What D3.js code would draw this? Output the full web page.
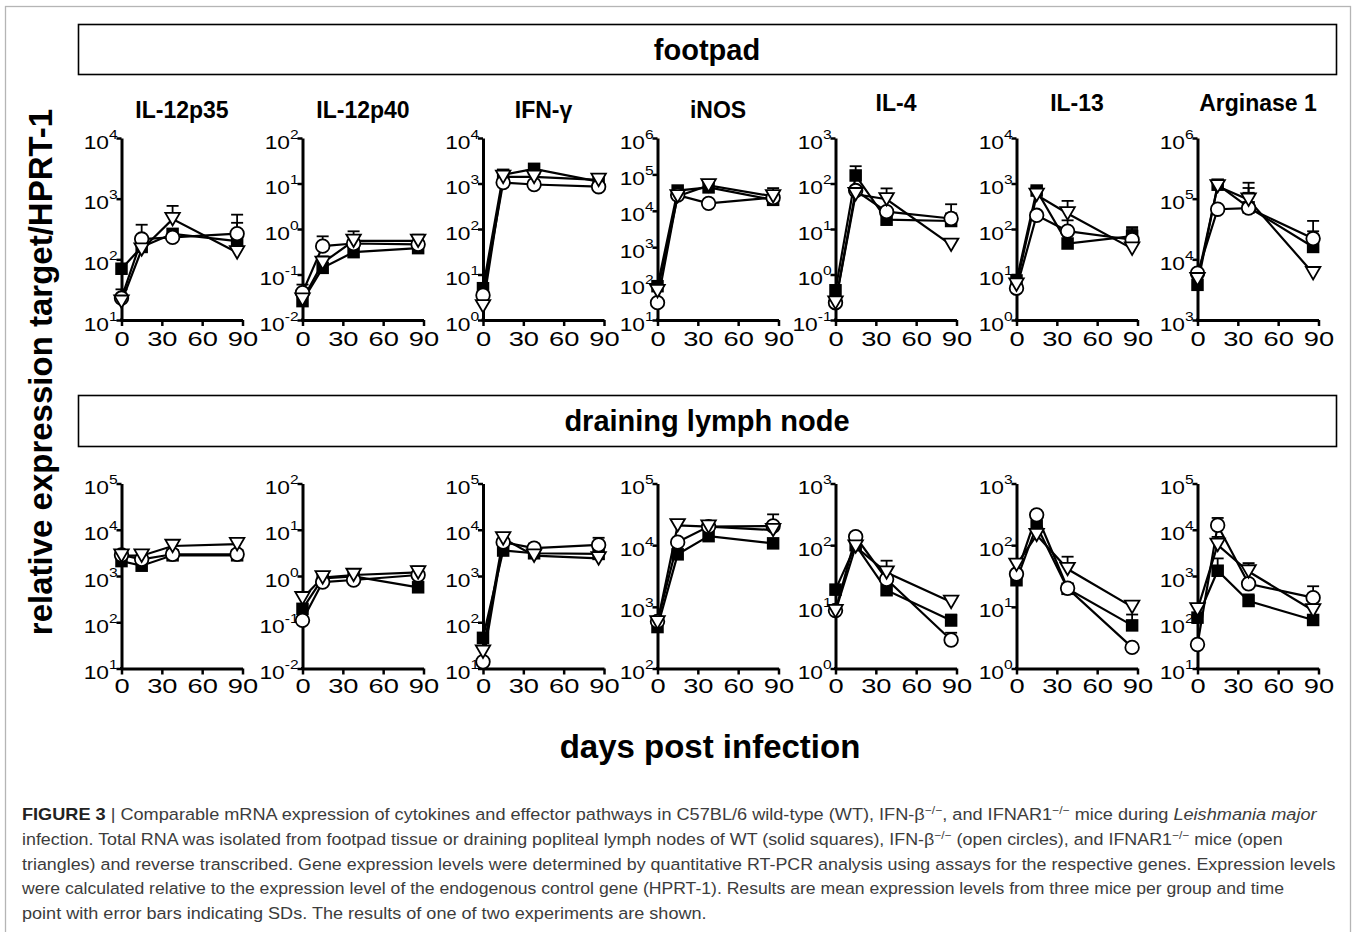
<!DOCTYPE html>
<html><head><meta charset="utf-8">
<script src="https://cdn.jsdelivr.net/npm/d3@7"></script>
<style>body{margin:0;background:#fff;} svg{display:block;}</style>
</head><body>
<svg id="fig" width="1354" height="932"></svg>
<script>
// ---------------- DATA ----------------
const days = [0, 15, 38, 86];
const xTicks = [0, 30, 60, 90];
const genes = ["IL-12p35", "IL-12p40", "IFN-γ", "iNOS", "IL-4", "IL-13", "Arginase 1"];
const tissues = ["footpad", "draining lymph node"];
// y-axis decade exponent ranges [low, high]
const footpadExp = [[1,4],[-2,2],[0,4],[1,6],[-1,3],[0,4],[3,6]];
const lymphExp   = [[1,5],[-2,2],[1,5],[2,5],[0,3],[0,3],[1,5]];

// footpad: WT (solid squares), IFN-β-/- (open circles), IFNAR1-/- (open triangles)
const footpadWT = [
  [70, 160, 263, 200],
  [0.026, 0.14, 0.31, 0.38],
  [5.0, 1550, 2100, 1100],
  [85, 36000, 44000, 20000],
  [0.45, 150, 16, 15],
  [7.4, 700, 48, 70],
  [3800, 170000, 72000, 16000]
];
const footpadIFNB = [
  [23, 216, 230, 265],
  [0.04, 0.42, 0.48, 0.46],
  [3.5, 1050, 950, 850],
  [30, 27000, 16000, 23000],
  [0.24, 70, 24, 17],
  [5, 200, 90, 58],
  [5900, 67000, 70000, 22000]
];
const footpadIFNAR1 = [
  [20, 145, 460, 130],
  [0.028, 0.18, 0.55, 0.55],
  [2.0, 1400, 1400, 1200],
  [62, 25000, 50000, 25000],
  [0.24, 58, 45, 4.5],
  [6, 560, 220, 37],
  [4700, 160000, 96000, 5900]
];
// upper end of SD error bars (null = not visible)
const footpadWTErr = [
  [null, null, null, 400],
  [null, null, null, null],
  [null, null, null, null],
  [null, null, null, null],
  [null, 240, null, 22],
  [null, 830, null, 100],
  [null, null, 125000, 29000]
];
const footpadIFNBErr = [
  [32, 372, null, 545],
  [0.06, 0.69, null, null],
  [null, null, null, null],
  [null, null, null, 42000],
  [null, null, null, 35],
  [null, null, 155, 110],
  [null, null, 150000, 43000]
];
const footpadIFNAR1Err = [
  [null, null, 760, null],
  [null, 0.25, 0.89, 0.75],
  [null, null, null, null],
  [null, null, 60000, null],
  [null, null, 78, null],
  [null, null, 415, null],
  [null, null, 183000, null]
];

// draining lymph node
const lymphWT = [
  [2100, 1670, 2800, 2800],
  [0.195, 0.89, 0.98, 0.57],
  [46, 3550, 3100, 3000],
  [470, 7100, 14000, 10700],
  [19, 100, 18.6, 6.0],
  [27, 207, 19.6, 5.0],
  [126, 1300, 288, 112]
];
const lymphIFNB = [
  [2850, 2300, 2950, 2950],
  [0.11, 0.74, 0.82, 1.05],
  [14, 5400, 4000, 4700],
  [580, 11200, 20000, 20500],
  [8.7, 137, 28, 2.9],
  [34, 310, 20, 2.2],
  [33, 12500, 680, 340]
];
const lymphIFNAR1 = [
  [2750, 2750, 4450, 4870],
  [0.33, 0.93, 1.05, 1.2],
  [23, 6500, 2750, 2400],
  [560, 21000, 20000, 17600],
  [8.5, 95, 36, 12],
  [48, 146, 41, 10],
  [190, 4700, 1250, 180]
];
const lymphWTErr = [
  [null, null, null, null],
  [null, null, null, null],
  [null, null, null, null],
  [null, null, null, null],
  [null, null, null, 7.5],
  [null, null, null, 7.5],
  [null, 2400, 400, null]
];
const lymphIFNBErr = [
  [null, null, null, null],
  [null, null, null, null],
  [null, null, 5000, 6700],
  [null, null, null, 31600],
  [null, 160, null, 3.8],
  [null, null, null, null],
  [null, 18000, null, 600]
];
const lymphIFNAR1Err = [
  [null, null, null, null],
  [null, null, null, 1.6],
  [null, null, null, null],
  [null, null, null, null],
  [null, null, 56, null],
  [null, null, 65, null],
  [null, 7000, 1900, null]
];

const yAxisTitle = "relative expression target/HPRT-1";
const xAxisTitle = "days post infection";

const captionLines = [
  [{t:"FIGURE 3", b:1}, {t:" | Comparable mRNA expression of cytokines and effector pathways in C57BL/6 wild-type (WT), IFN-β"}, {t:"−/−", sup:1}, {t:", and IFNAR1"}, {t:"−/−", sup:1}, {t:" mice during "}, {t:"Leishmania major", i:1}],
  [{t:"infection. Total RNA was isolated from footpad tissue or draining popliteal lymph nodes of WT (solid squares), IFN-β"}, {t:"−/−", sup:1}, {t:" (open circles), and IFNAR1"}, {t:"−/−", sup:1}, {t:" mice (open"}],
  [{t:"triangles) and reverse transcribed. Gene expression levels were determined by quantitative RT-PCR analysis using assays for the respective genes. Expression levels"}],
  [{t:"were calculated relative to the expression level of the endogenous control gene (HPRT-1). Results are mean expression levels from three mice per group and time"}],
  [{t:"point with error bars indicating SDs. The results of one of two experiments are shown."}]
];

// ---------------- LAYOUT ----------------
const panelLeft = [121.5, 302.5, 483, 657.5, 835.5, 1016.5, 1197.5];
const panelW = 121;
const rows = [
  {top: 138, bottom: 320, strip: [24.5, 50], labelBase: 26.5},
  {top: 483.5, bottom: 668.5, strip: [395.5, 51], labelBase: 25}
];
const titleBase = [118, 118, 118, 118, 111, 111, 111];
const captionW = [1296, 1262, 1315, 1263, 685];
const FONT = "'Liberation Sans', Arial, Helvetica, sans-serif";

const svg = d3.select("#fig").style("font-family", FONT);

// outer frame
svg.append("rect").attr("x", 5.5).attr("y", 6.5).attr("width", 1345).attr("height", 1000)
  .attr("fill", "none").attr("stroke", "#b5b5b5").attr("stroke-width", 1.3);

// strips
rows.forEach((r, i) => {
  svg.append("rect").attr("x", 78.5).attr("y", r.strip[0]).attr("width", 1258).attr("height", r.strip[1])
    .attr("fill", "#fff").attr("stroke", "#000").attr("stroke-width", 1.6);
  svg.append("text").attr("x", 707).attr("y", r.strip[0] + r.strip[1] / 2 + 10)
    .attr("text-anchor", "middle").attr("font-weight", "bold").attr("font-size", 29)
    .text(tissues[i]);
});

// gene titles
genes.forEach((g, c) => {
  svg.append("text").attr("x", panelLeft[c] + panelW / 2).attr("y", titleBase[c])
    .attr("text-anchor", "middle").attr("font-weight", "bold").attr("font-size", 23).text(g);
});

const sqS = 12.5, cirR = 6.8;
const triPath = (w, h) => `M${-w/2},${-h/2}L${w/2},${-h/2}L0,${h/2}Z`;

function drawPanel(rowIdx, c, exp, series) {
  const r = rows[rowIdx];
  const g = svg.append("g");
  const x = d3.scaleLinear().domain([0, 90]).range([panelLeft[c], panelLeft[c] + panelW]);
  const y = d3.scaleLog().domain([Math.pow(10, exp[0]), Math.pow(10, exp[1])]).range([r.bottom, r.top]);
  const decades = d3.range(exp[0], exp[1] + 1).map(e => Math.pow(10, e));

  // y axis
  const ya = g.append("g").attr("transform", `translate(${x(0)},0)`)
    .call(d3.axisLeft(y).tickValues(decades).tickSize(5).tickSizeOuter(0).tickFormat(""));
  ya.select(".domain").attr("stroke-width", 3).attr("stroke", "#000");
  ya.selectAll(".tick line").attr("stroke-width", 2.5).attr("stroke", "#000");
  ya.selectAll(".tick").each(function(d) {
    const e = Math.round(Math.log10(d));
    const t = d3.select(this).append("text").attr("fill", "#000").attr("text-anchor", "end")
      .attr("x", -3.2).attr("y", 10).attr("font-size", 19).attr("transform", "scale(1.2,1)");
    t.append("tspan").text("10");
    t.append("tspan").attr("font-size", 13).attr("dy", -10).text(String(e));
  });

  // x axis
  const xa = g.append("g").attr("transform", `translate(0,${r.bottom})`)
    .call(d3.axisBottom(x).tickValues(xTicks).tickSize(6).tickSizeOuter(0));
  xa.select(".domain").attr("stroke-width", 3).attr("stroke", "#000");
  xa.selectAll(".tick line").attr("stroke-width", 2.5).attr("stroke", "#000");
  xa.selectAll(".tick text").attr("y", r.labelBase).attr("dy", 0).attr("font-size", 19.5)
    .attr("fill", "#000").attr("font-family", FONT).attr("transform", "scale(1.4,1)");
  // axis-line join at origin
  g.append("rect").attr("x", x(0) - 1.5).attr("y", r.bottom - 1.5).attr("width", 3).attr("height", 3).attr("fill", "#000");

  const line = d3.line().x((d, i) => x(days[i])).y(d => y(d));
  series.forEach(s => {
    g.append("path").attr("d", line(s.v)).attr("fill", "none").attr("stroke", "#000").attr("stroke-width", 2.2);
  });
  // error bars (upper)
  series.forEach(s => {
    s.e.forEach((ev, i) => {
      if (ev == null) return;
      const px = x(days[i]);
      g.append("line").attr("x1", px).attr("x2", px).attr("y1", y(s.v[i])).attr("y2", y(ev))
        .attr("stroke", "#000").attr("stroke-width", 1.8);
      g.append("line").attr("x1", px - 6).attr("x2", px + 6).attr("y1", y(ev)).attr("y2", y(ev))
        .attr("stroke", "#000").attr("stroke-width", 1.8);
    });
  });
  // markers
  series.forEach(s => {
    s.v.forEach((v, i) => {
      const px = x(days[i]), py = y(v);
      if (s.shape === "square") {
        g.append("rect").attr("x", px - sqS / 2).attr("y", py - sqS / 2).attr("width", sqS).attr("height", sqS)
          .attr("fill", "#000");
      } else if (s.shape === "circle") {
        g.append("circle").attr("cx", px).attr("cy", py).attr("r", cirR)
          .attr("fill", "#fff").attr("stroke", "#000").attr("stroke-width", 1.8);
      } else {
        g.append("path").attr("d", triPath(14.5, 12.5)).attr("transform", `translate(${px},${py})`)
          .attr("fill", "#fff").attr("stroke", "#000").attr("stroke-width", 1.8).attr("stroke-linejoin", "miter");
      }
    });
  });
}

for (let c = 0; c < 7; c++) {
  drawPanel(0, c, footpadExp[c], [
    {v: footpadWT[c], e: footpadWTErr[c], shape: "square"},
    {v: footpadIFNB[c], e: footpadIFNBErr[c], shape: "circle"},
    {v: footpadIFNAR1[c], e: footpadIFNAR1Err[c], shape: "triangle"}
  ]);
  drawPanel(1, c, lymphExp[c], [
    {v: lymphWT[c], e: lymphWTErr[c], shape: "square"},
    {v: lymphIFNB[c], e: lymphIFNBErr[c], shape: "circle"},
    {v: lymphIFNAR1[c], e: lymphIFNAR1Err[c], shape: "triangle"}
  ]);
}

// axis titles
svg.append("text").attr("transform", "translate(52,372) rotate(-90)").attr("text-anchor", "middle")
  .attr("font-weight", "bold").attr("font-size", 33).text(yAxisTitle);
svg.append("text").attr("x", 710).attr("y", 758).attr("text-anchor", "middle")
  .attr("font-weight", "bold").attr("font-size", 33).text(xAxisTitle);

// caption
captionLines.forEach((segs, li) => {
  const t = svg.append("text").attr("font-size", 16.5).attr("fill", "#3c3c3c").attr("x", 0).attr("y", 0);
  let raised = false;
  segs.forEach(s => {
    const ts = t.append("tspan").text(s.t);
    if (s.b) ts.attr("font-weight", "bold").attr("fill", "#222");
    if (s.i) ts.attr("font-style", "italic");
    if (s.sup) { ts.attr("font-size", 11).attr("dy", -6); raised = true; }
    else if (raised) { ts.attr("dy", 6); raised = false; }
  });
  const len = t.node().getComputedTextLength();
  const k = captionW[li] / len;
  t.attr("transform", `translate(22,${820 + li * 24.8}) scale(${k},1)`);
});
</script>
</body></html>
